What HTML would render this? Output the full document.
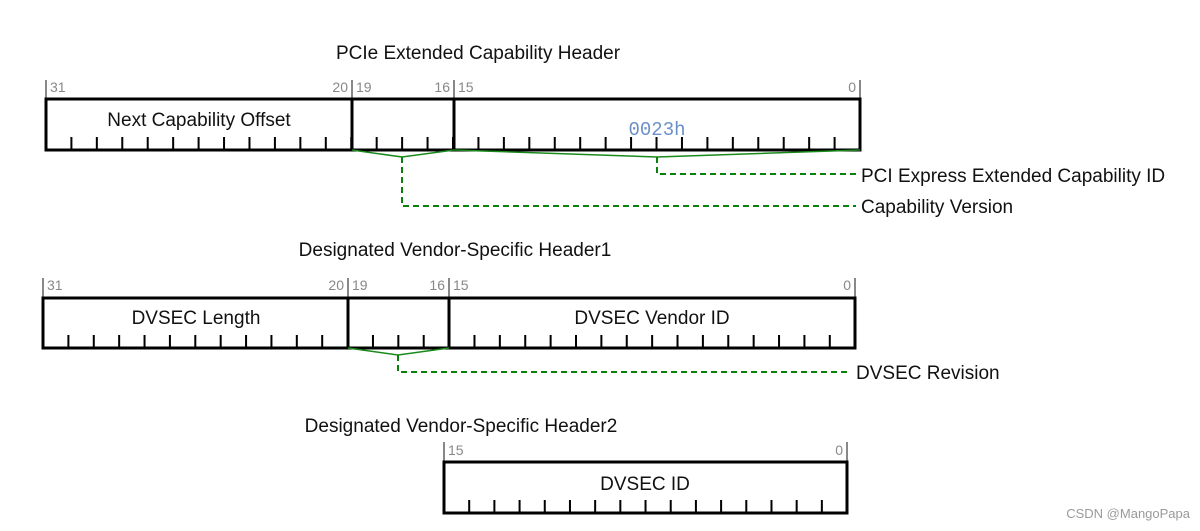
<!DOCTYPE html>
<html><head><meta charset="utf-8"><style>
html,body{margin:0;padding:0;background:#fff;}
svg{display:block;font-family:"Liberation Sans","DejaVu Sans",sans-serif;}
</style></head><body>
<svg width="1200" height="531" viewBox="0 0 1200 531" xmlns="http://www.w3.org/2000/svg">
<!-- Header 1 -->
<text x="478" y="59" font-size="19" text-anchor="middle" fill="#111">PCIe Extended Capability Header</text>
<g stroke="#888" stroke-width="2">
<line x1="46" y1="80" x2="46" y2="99"/><line x1="352" y1="80" x2="352" y2="99"/><line x1="454" y1="80" x2="454" y2="99"/><line x1="860" y1="80" x2="860" y2="99"/>
</g>
<g font-size="14" fill="#888">
<text x="50" y="92">31</text><text x="348" y="92" text-anchor="end">20</text><text x="356" y="92">19</text><text x="450" y="92" text-anchor="end">16</text><text x="458" y="92">15</text><text x="856" y="92" text-anchor="end">0</text>
</g>
<line x1="70.4" y1="143.5" x2="860" y2="143.5" stroke="#000" stroke-width="13" stroke-dasharray="2 23.44"/>
<rect x="46" y="99" width="814" height="51" fill="none" stroke="#000" stroke-width="3"/>
<line x1="352" y1="99" x2="352" y2="150" stroke="#000" stroke-width="3"/>
<line x1="454" y1="99" x2="454" y2="150" stroke="#000" stroke-width="3"/>
<text x="199" y="126" font-size="19" text-anchor="middle" fill="#111">Next Capability Offset</text>
<text x="657" y="135" font-size="19" text-anchor="middle" fill="#6a8fc8" font-family="Liberation Mono,monospace">0023h</text>
<g fill="none" stroke="#1a8a1a" stroke-width="1.5">
<polyline points="352,150 402,157 454,150"/>
<polyline points="454,150 657,157 860,150"/>
</g>
<g fill="none" stroke="#0a820a" stroke-width="2" stroke-dasharray="6 4">
<polyline points="402,157 402,206 856,206"/>
<polyline points="657,157 657,174 856,174"/>
</g>
<text x="861" y="182" font-size="19" fill="#111">PCI Express Extended Capability ID</text>
<text x="861" y="213" font-size="19" fill="#111">Capability Version</text>

<!-- Header 2 -->
<text x="455" y="256" font-size="19" text-anchor="middle" fill="#111">Designated Vendor-Specific Header1</text>
<g stroke="#888" stroke-width="2">
<line x1="43" y1="278" x2="43" y2="298"/><line x1="348" y1="278" x2="348" y2="298"/><line x1="449" y1="278" x2="449" y2="298"/><line x1="855" y1="278" x2="855" y2="298"/>
</g>
<g font-size="14" fill="#888">
<text x="47" y="290">31</text><text x="344" y="290" text-anchor="end">20</text><text x="352" y="290">19</text><text x="445" y="290" text-anchor="end">16</text><text x="453" y="290">15</text><text x="851" y="290" text-anchor="end">0</text>
</g>
<line x1="67.4" y1="341.5" x2="855" y2="341.5" stroke="#000" stroke-width="13" stroke-dasharray="2 23.38"/>
<rect x="43" y="298" width="812" height="50" fill="none" stroke="#000" stroke-width="3"/>
<line x1="348" y1="298" x2="348" y2="348" stroke="#000" stroke-width="3"/>
<line x1="449" y1="298" x2="449" y2="348" stroke="#000" stroke-width="3"/>
<text x="196" y="324" font-size="19" text-anchor="middle" fill="#111">DVSEC Length</text>
<text x="652" y="324" font-size="19" text-anchor="middle" fill="#111">DVSEC Vendor ID</text>
<polyline points="348,348 398,355 449,348" fill="none" stroke="#1a8a1a" stroke-width="1.5"/>
<polyline points="398,355 398,372 851,372" fill="none" stroke="#0a820a" stroke-width="2" stroke-dasharray="6 4"/>
<text x="856" y="379" font-size="19" fill="#111">DVSEC Revision</text>

<!-- Header 3 -->
<text x="461" y="432" font-size="19" text-anchor="middle" fill="#111">Designated Vendor-Specific Header2</text>
<g stroke="#888" stroke-width="2">
<line x1="444" y1="442" x2="444" y2="462"/><line x1="847" y1="442" x2="847" y2="462"/>
</g>
<g font-size="14" fill="#888">
<text x="448" y="455">15</text><text x="843" y="455" text-anchor="end">0</text>
</g>
<line x1="468.2" y1="506.5" x2="847" y2="506.5" stroke="#000" stroke-width="13" stroke-dasharray="2 23.19"/>
<rect x="444" y="462" width="403" height="51" fill="none" stroke="#000" stroke-width="3"/>
<text x="645" y="490" font-size="19" text-anchor="middle" fill="#111">DVSEC ID</text>

<text x="1190" y="518" font-size="13" text-anchor="end" fill="#9a9a9a">CSDN @MangoPapa</text>
</svg>
</body></html>
